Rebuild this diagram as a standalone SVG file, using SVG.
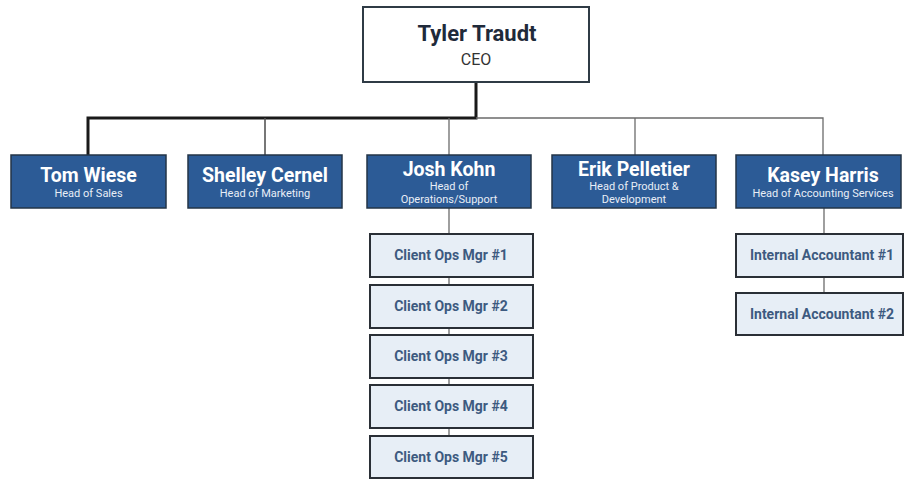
<svg xmlns="http://www.w3.org/2000/svg" width="904" height="479" viewBox="0 0 904 479">
<style>
.ceo{fill:#ffffff;stroke:#2f3b45;stroke-width:2}
.head{fill:#2c5b96;stroke:#233447;stroke-width:1.5}
.sub{fill:#e7eef6;stroke:#2a2f36;stroke-width:2}
.t{font-family:Roboto,"Liberation Sans",sans-serif;text-anchor:middle}
.hn{font-size:19.5px;font-weight:bold;fill:#ffffff}
.ht{font-size:11px;fill:#e8eef6}
.sn{font-size:14px;font-weight:bold;fill:#3d5a80}
.thick{stroke:#1a1a1a;stroke-width:3;fill:none}
.thin{stroke:#6b6b6b;stroke-width:1.3;fill:none}
</style>
<rect width="904" height="479" fill="#ffffff"/>
<g id="connectors">
<path class="thick" d="M476,82 V118 H88 V155"/>
<path class="thin" d="M476,118 H823 V155"/>
<path class="thin" d="M265,118 V155" style="stroke:#555;stroke-width:1.6"/>
<path class="thin" d="M449,118 V155"/>
<path class="thin" d="M635,118 V155"/>
<path class="thin" d="M449,208 V436"/>
<path class="thin" d="M824,208 V293"/>
</g>
<g id="ceo">
<rect class="ceo" x="363" y="7" width="226" height="75"/>
<text class="t" x="477" y="41" style="font-size:22px;font-weight:bold;fill:#1f2a3a">Tyler Traudt</text>
<text class="t" x="476" y="65" style="font-size:16px;fill:#333">CEO</text>
</g>
<g id="tom">
<rect class="head" x="11" y="155" width="155" height="53"/>
<text class="t hn" x="88.5" y="182">Tom Wiese</text>
<text class="t ht" x="88.5" y="197">Head of Sales</text>
</g>
<g id="shelley">
<rect class="head" x="188" y="155" width="154" height="53"/>
<text class="t hn" x="265" y="182">Shelley Cernel</text>
<text class="t ht" x="265" y="197">Head of Marketing</text>
</g>
<g id="josh">
<rect class="head" x="367" y="155" width="164" height="53"/>
<text class="t hn" x="449" y="176">Josh Kohn</text>
<text class="t ht" x="449" y="190">Head of</text>
<text class="t ht" x="449" y="203">Operations/Support</text>
</g>
<g id="erik">
<rect class="head" x="552" y="155" width="164" height="53"/>
<text class="t hn" x="634" y="176">Erik Pelletier</text>
<text class="t ht" x="634" y="190">Head of Product &amp;</text>
<text class="t ht" x="634" y="203">Development</text>
</g>
<g id="kasey">
<rect class="head" x="736" y="155" width="165" height="53"/>
<text class="t hn" x="823" y="182">Kasey Harris</text>
<text class="t ht" x="823" y="197">Head of Accounting Services</text>
</g>
<g id="cops1">
<rect class="sub" x="370" y="234" width="163" height="43"/>
<text class="t sn" x="451" y="260">Client Ops Mgr #1</text>
</g>
<g id="cops2">
<rect class="sub" x="370" y="285" width="163" height="43"/>
<text class="t sn" x="451" y="311">Client Ops Mgr #2</text>
</g>
<g id="cops3">
<rect class="sub" x="370" y="335" width="163" height="43"/>
<text class="t sn" x="451" y="361">Client Ops Mgr #3</text>
</g>
<g id="cops4">
<rect class="sub" x="370" y="385" width="163" height="43"/>
<text class="t sn" x="451" y="411">Client Ops Mgr #4</text>
</g>
<g id="cops5">
<rect class="sub" x="370" y="436" width="163" height="42"/>
<text class="t sn" x="451" y="462">Client Ops Mgr #5</text>
</g>
<g id="acct1">
<rect class="sub" x="736" y="234" width="167" height="43"/>
<text class="t sn" x="822" y="260">Internal Accountant #1</text>
</g>
<g id="acct2">
<rect class="sub" x="736" y="293" width="167" height="42"/>
<text class="t sn" x="822" y="319">Internal Accountant #2</text>
</g>
</svg>
